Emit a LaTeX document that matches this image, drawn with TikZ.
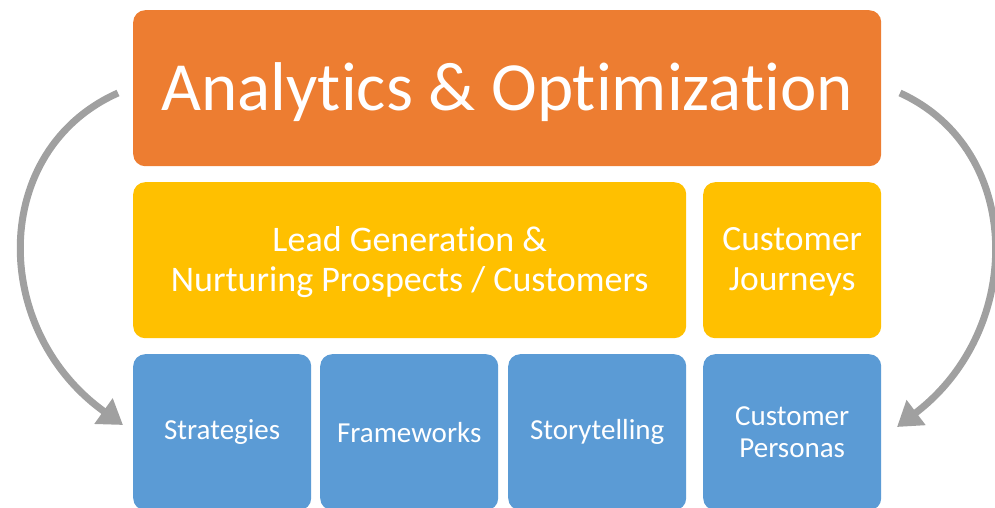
\documentclass[tikz,border=0pt]{standalone}
\usepackage{fontspec}
\setmainfont{Carlito}[Ligatures={NoCommon,NoContextual}, Contextuals={NoAlternate}]
\usetikzlibrary{arrows.meta}
\definecolor{orangeA}{HTML}{ED7D31}
\definecolor{yellowA}{HTML}{FFC000}
\definecolor{blueA}{HTML}{5B9BD5}
\definecolor{grayA}{HTML}{A0A0A0}
\begin{document}
\begin{tikzpicture}[x=1pt,y=-1pt,
  box/.style={rounded corners=12pt, inner sep=0pt, text=white, align=center, anchor=north west},
  arr/.style={draw=grayA, line width=7pt, -{Triangle[length=24pt,width=30pt]}}]
\useasboundingbox (0,0) rectangle (995,508);
\begin{scope}
\clip (0,0) rectangle (995,508);
\node[box, fill=orangeA, minimum width=748pt, minimum height=156pt, font=\fontsize{69}{80}\selectfont, text depth=3pt] (top) at (133,10) {Analytics \& Optimization};
\node[box, fill=yellowA, minimum width=553pt, minimum height=156pt, font=\fontsize{36}{40}\selectfont, text depth=2pt] (lead) at (133,182) {Lead Generation \&\\Nurturing Prospects / Customers};
\node[box, fill=yellowA, minimum width=178pt, minimum height=156pt, font=\fontsize{35.5}{40}\selectfont, text depth=2pt] (journ) at (703,182) {Customer\\Journeys};
\node[box, fill=blueA, minimum width=178pt, minimum height=156pt, font=\fontsize{29}{32}\selectfont] (strat) at (133,354) {Strategies};
\node[box, fill=blueA, minimum width=178pt, minimum height=156pt, font=\fontsize{29}{32}\selectfont] (frame) at (320,354) {Frameworks};
\node[box, fill=blueA, minimum width=178pt, minimum height=156pt, font=\fontsize{29}{32}\selectfont] (story) at (508,354) {Storytelling};
\node[box, fill=blueA, minimum width=178pt, minimum height=156pt, font=\fontsize{29}{32}\selectfont] (pers) at (703,354) {Customer\\Personas};
\end{scope}
\coordinate (ls) at (118,93);
\coordinate (lt) at (123,425);
\coordinate (rs) at (900,93);
\coordinate (rt) at (897,427);
\draw[arr] (ls) .. controls (-10,150) and (-10,330) .. (lt);
\draw[arr] (rs) .. controls (1025,150) and (1025,330) .. (rt);
\end{tikzpicture}
\end{document}
